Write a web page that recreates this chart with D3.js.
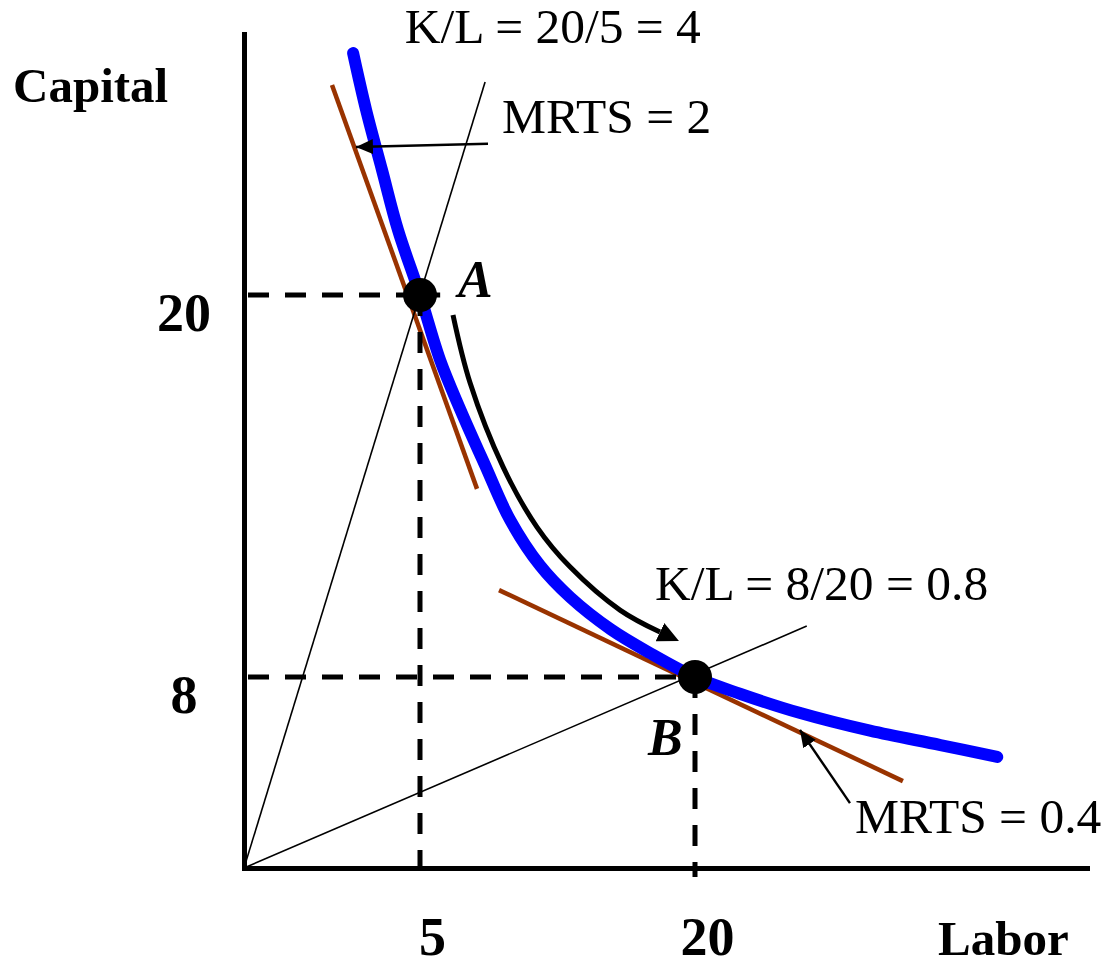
<!DOCTYPE html>
<html>
<head>
<meta charset="utf-8">
<script src="https://cdn.jsdelivr.net/npm/d3@7"></script>
<style>
  body { margin: 0; background: #fff; }
  svg { display: block; }
  text { font-family: "Liberation Serif", "Times New Roman", serif; fill: #000; }
</style>
</head>
<body>
<svg id="chart" width="1103" height="967"></svg>
<script>
// ---- data -------------------------------------------------------------
// Axis tick values
const laborTicks = [5, 20];
const capitalTicks = [8, 20];

// Isoquant (Labor, Capital)
const isoquantLabor   = [3.10, 3.47, 3.92, 4.375, 5.00, 6.10, 7.20, 8.55, 9.90, 11.55, 13.20, 15.40, 17.55, 20.00, 22.45, 25.70, 29.55, 33.40, 36.50];
const isoquantCapital = [27.60, 25.81, 23.93, 22.04, 20.00, 17.95, 16.40, 14.65, 12.95, 11.50, 10.50, 9.50, 8.75, 8.00, 7.30, 6.50, 5.75, 5.15, 4.65];

// Input bundles on the isoquant
const pointNames   = ["A", "B"];
const pointLabor   = [5, 20];
const pointCapital = [20, 8];

// Rays from the origin through each bundle (end points)
const rayEndLabor   = [8.55, 26.1];
const rayEndCapital = [26.69, 9.6];

// Tangent lines at each bundle (start / end)
const tangentLabor   = [[2.50, 8.11], [9.31, 31.35]];
const tangentCapital = [[26.60, 13.91], [10.73, 3.64]];

// Annotation texts and their anchor points
const ratioLabels  = ["K/L = 20/5 = 4", "K/L = 8/20 = 0.8"];
const ratioLabor   = [4.57, 17.82];
const ratioCapital = [27.92, 10.42];
const mrtsLabels   = ["MRTS = 2", "MRTS = 0.4"];
const mrtsLabor    = [9.47, 28.73];
const mrtsCapital  = [25.09, 1.47];

// Pointer arrows from the MRTS labels to the tangent lines (tail, head)
const pointerLabor   = [[8.71, 3.18], [28.46, 25.73]];
const pointerCapital = [[24.75, 24.65], [2.72, 5.78]];

// Movement along the isoquant from A to B
const moveLabor   = [6.80, 7.73, 9.53, 11.38, 13.18, 15.91, 18.09];
const moveCapital = [19.37, 17.24, 14.60, 12.71, 11.46, 10.10, 9.41];

// Dashed reference lines: horizontal extent / lower end per bundle
const guideHLabor      = [6.1, 20];
const guideVCapitalLow = [-0.17, -0.38];

// ---- scales -----------------------------------------------------------
const svg = d3.select("#chart");
const x = d3.scaleLinear().domain([0, 5, 20, 41.4]).range([244, 420, 695, 1087]);
const y = d3.scaleLinear().domain([0, 8, 20, 28.2]).range([868, 677, 295, 34]);

const BROWN = "#993300";
const BLUE = "#0000ff";

// ---- arrow markers ----------------------------------------------------
const defs = svg.append("defs");
function marker(id, len, half, refX) {
  defs.append("marker")
    .attr("id", id)
    .attr("markerUnits", "userSpaceOnUse")
    .attr("viewBox", `0 ${-half} ${len} ${2 * half}`)
    .attr("refX", refX === "tip" ? len : 0)
    .attr("refY", 0)
    .attr("markerWidth", len)
    .attr("markerHeight", 2 * half)
    .attr("orient", "auto")
    .append("path")
    .attr("d", `M0,${-half}L${len},0L0,${half}Z`)
    .attr("fill", "#000");
}
marker("headThin", 17, 7.5, "tip");
marker("headBold", 21, 10, "base");

// ---- axes -------------------------------------------------------------
const xAxis = svg.append("g")
  .attr("transform", `translate(0,${y(0)})`)
  .call(d3.axisBottom(x).tickValues(laborTicks).tickSize(0).tickSizeOuter(0).tickFormat(d3.format("d")));
const yAxis = svg.append("g")
  .attr("transform", `translate(${x(0)},0)`)
  .call(d3.axisLeft(y).tickValues(capitalTicks).tickSize(0).tickSizeOuter(0).tickFormat(d3.format("d")));

[xAxis, yAxis].forEach(g => {
  g.select(".domain").attr("stroke", "#000").attr("stroke-width", 5).attr("stroke-linecap", "square");
  g.selectAll("text")
    .attr("font-family", "'Liberation Serif', 'Times New Roman', serif")
    .attr("font-size", 54).attr("font-weight", "bold").attr("fill", "#000");
});
xAxis.selectAll("text").attr("x", 12).attr("y", 87).attr("dy", null);
yAxis.selectAll("text").attr("x", -60).attr("y", 35).attr("dy", null).attr("text-anchor", "middle");

svg.append("text").attr("x", 13).attr("y", 102)
  .attr("font-size", 49).attr("font-weight", "bold").text("Capital");
svg.append("text").attr("x", 938).attr("y", 955)
  .attr("font-size", 49).attr("font-weight", "bold").text("Labor");

// ---- tangent lines ----------------------------------------------------
svg.append("g").selectAll("line").data(tangentLabor).join("line")
  .attr("x1", (d) => x(d[0])).attr("x2", (d) => x(d[1]))
  .attr("y1", (d, i) => y(tangentCapital[i][0])).attr("y2", (d, i) => y(tangentCapital[i][1]))
  .attr("stroke", BROWN).attr("stroke-width", 4.5);

// ---- isoquant ---------------------------------------------------------
const iso = isoquantLabor.map((l, i) => [l, isoquantCapital[i]]);
svg.append("path")
  .attr("d", d3.line().x(d => x(d[0])).y(d => y(d[1])).curve(d3.curveCatmullRom.alpha(0.5))(iso))
  .attr("fill", "none").attr("stroke", BLUE).attr("stroke-width", 12)
  .attr("stroke-linecap", "round").attr("stroke-linejoin", "round");

// ---- rays from the origin ---------------------------------------------
svg.append("g").selectAll("line").data(rayEndLabor).join("line")
  .attr("x1", x(0)).attr("y1", y(0))
  .attr("x2", d => x(d)).attr("y2", (d, i) => y(rayEndCapital[i]))
  .attr("stroke", "#000").attr("stroke-width", 1.6);

// ---- dashed reference lines -------------------------------------------
const guides = svg.append("g").attr("stroke", "#000").attr("stroke-width", 5)
  .attr("stroke-dasharray", "21,16");
pointLabor.forEach((l, i) => {
  guides.append("line")
    .attr("x1", x(0) + 4).attr("x2", x(guideHLabor[i]))
    .attr("y1", y(pointCapital[i])).attr("y2", y(pointCapital[i]));
  guides.append("line")
    .attr("x1", x(l)).attr("x2", x(l))
    .attr("y1", y(pointCapital[i])).attr("y2", y(guideVCapitalLow[i]));
});

// ---- bundles ----------------------------------------------------------
const pts = svg.append("g");
pts.selectAll("circle").data(pointNames).join("circle")
  .attr("cx", (d, i) => x(pointLabor[i])).attr("cy", (d, i) => y(pointCapital[i]))
  .attr("r", 17).attr("fill", "#000");
const labelOffset = [[38, 2], [-47, 78]];
pts.selectAll("text").data(pointNames).join("text")
  .attr("x", (d, i) => x(pointLabor[i]) + labelOffset[i][0])
  .attr("y", (d, i) => y(pointCapital[i]) + labelOffset[i][1])
  .attr("font-size", 52).attr("font-weight", "bold").attr("font-style", "italic")
  .text(d => d);

// ---- movement arrow A -> B --------------------------------------------
const move = moveLabor.map((l, i) => [l, moveCapital[i]]);
svg.append("path")
  .attr("d", d3.line().x(d => x(d[0])).y(d => y(d[1])).curve(d3.curveCatmullRom.alpha(0.5))(move))
  .attr("fill", "none").attr("stroke", "#000").attr("stroke-width", 5)
  .attr("marker-end", "url(#headBold)");

// ---- MRTS pointers ----------------------------------------------------
svg.append("g").selectAll("line").data(pointerLabor).join("line")
  .attr("x1", d => x(d[0])).attr("x2", d => x(d[1]))
  .attr("y1", (d, i) => y(pointerCapital[i][0])).attr("y2", (d, i) => y(pointerCapital[i][1]))
  .attr("stroke", "#000").attr("stroke-width", 2.4)
  .attr("marker-end", "url(#headThin)");

// ---- annotation texts -------------------------------------------------
const notes = svg.append("g").attr("font-size", 49.5);
ratioLabels.forEach((t, i) => {
  notes.append("text").attr("x", x(ratioLabor[i])).attr("y", y(ratioCapital[i])).text(t);
});
mrtsLabels.forEach((t, i) => {
  notes.append("text").attr("x", x(mrtsLabor[i])).attr("y", y(mrtsCapital[i])).text(t);
});
</script>
</body>
</html>
